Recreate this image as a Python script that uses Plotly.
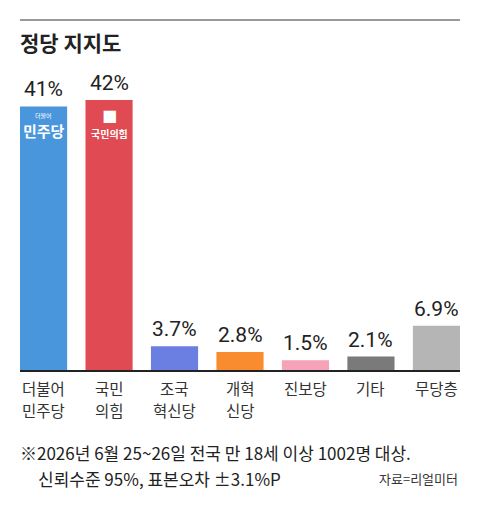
import plotly.graph_objects as go

parties = [["더불어", "민주당"], ["국민", "의힘"], ["조국", "혁신당"], ["개혁", "신당"], ["진보당"], ["기타"], ["무당층"]]
values = [41, 42, 3.7, 2.8, 1.5, 2.1, 6.9]
value_labels = ["41%", "42%", "3.7%", "2.8%", "1.5%", "2.1%", "6.9%"]
colors = ["#4a96dc", "#e04b53", "#6b7fe2", "#f88c2f", "#f6a2b9", "#7a7a7a", "#b5b5b5"]

FONT = "Noto Sans CJK KR"
NUMFONT = "Roboto, sans-serif"
x = list(range(len(parties)))

fig = go.Figure()
fig.add_trace(go.Bar(x=x, y=values, marker=dict(color=colors, line=dict(width=0)),
                     width=0.72, hoverinfo="skip"))

for xi, v, lab in zip(x, values, value_labels):
    fig.add_annotation(x=xi, y=v, text=lab, showarrow=False, yanchor="bottom", yshift=3,
                       font=dict(family=NUMFONT, size=21, color="#222"))

# category labels (one annotation per line)
for xi, lines in zip(x, parties):
    for li, line in enumerate(lines):
        fig.add_annotation(x=xi, xref="x", yref="paper", y=-(18 + 22 * li) / 320, text=line,
                           showarrow=False, yanchor="middle", borderpad=0,
                           font=dict(family=FONT, size=15.5, color="#333"))

# party logos in bars
fig.add_annotation(x=0, y=values[0], text="<b>민주당</b>", showarrow=False, yanchor="top", yshift=-12,
                   font=dict(family=FONT, size=15, color="white"))
fig.add_annotation(x=0, y=values[0], text="더불어", showarrow=False, yanchor="top", yshift=-3,
                   font=dict(family=FONT, size=6, color="white"))
fig.add_annotation(x=1, y=values[1], text="<b>국민의힘</b>", showarrow=False, yanchor="top", yshift=-24,
                   font=dict(family=FONT, size=10, color="white"))
fig.add_annotation(x=1, y=values[1], text="■", showarrow=False, yanchor="top", yshift=-4,
                   font=dict(family="DejaVu Sans", size=16, color="white"))

fig.update_layout(
    width=480, height=511,
    margin=dict(l=20, r=20, t=50, b=141),
    paper_bgcolor="white", plot_bgcolor="white",
    showlegend=False,
    font=dict(family=FONT, color="#333"),
    xaxis=dict(range=[-0.36, 6.36], showticklabels=False, showgrid=False,
               showline=True, linecolor="#222", linewidth=1.5, ticks="", fixedrange=True),
    yaxis=dict(range=[0, 320 / (270 / 42)], visible=False, showgrid=False, zeroline=False),
)

# top rule
fig.add_shape(type="line", xref="paper", yref="paper", x0=0, x1=1, y0=1 + 30 / 320, y1=1 + 30 / 320,
              line=dict(color="#999", width=2))
fig.add_annotation(xref="paper", yref="paper", x=0, y=1 + 8 / 320, xanchor="left", yanchor="middle",
                   text="<b>정당 지지도</b>", showarrow=False, xshift=-2,
                   font=dict(family=FONT, size=21, color="#222"))

fig.add_annotation(xref="paper", yref="paper", x=0, y=-(452 - 370) / 320, xanchor="left", yanchor="middle",
                   text="※2026년 6월 25~26일 전국 만 18세 이상 1002명 대상.", showarrow=False, xshift=-2,
                   font=dict(family=FONT, size=17, color="#222"))
fig.add_annotation(xref="paper", yref="paper", x=0, y=-(478 - 370) / 320, xanchor="left", yanchor="middle",
                   xshift=16, text="신뢰수준 95%, 표본오차 ±3.1%P", showarrow=False,
                   font=dict(family=FONT, size=17, color="#222"))
fig.add_annotation(xref="paper", yref="paper", x=1, y=-(478 - 370) / 320, xanchor="right", yanchor="middle",
                   text="자료=리얼미터", showarrow=False,
                   font=dict(family=FONT, size=13, color="#333"))

fig.write_html("out.html")
